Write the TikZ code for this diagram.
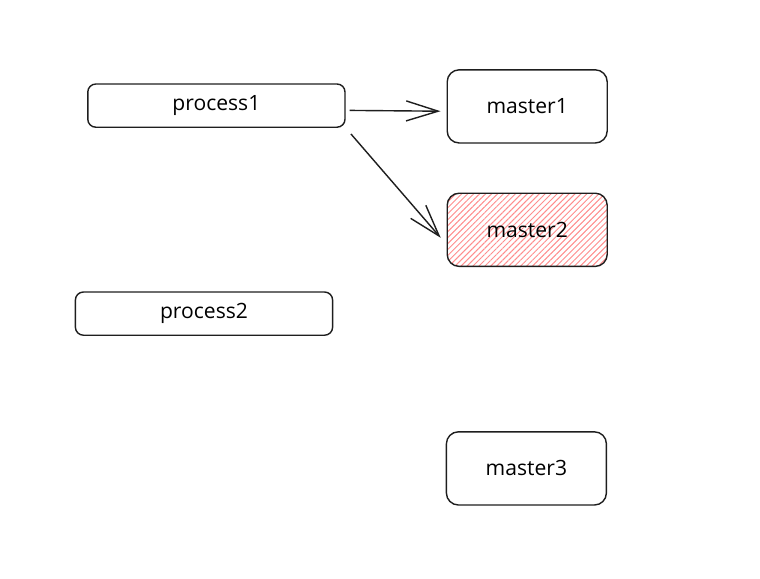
\documentclass[tikz,border=0pt]{standalone}
\usepackage{fontspec}
\setmainfont{Open Sans}
\usetikzlibrary{positioning,arrows.meta,patterns.meta}
\definecolor{ink}{HTML}{1E1E1E}
\definecolor{hatch}{HTML}{FF8C8C}
\tikzset{proc/.style={draw=ink,line width=1pt,rounded corners=2mm,fill=white,minimum width=6.43cm,minimum height=1.08cm,font=\fontsize{15}{18}\selectfont},master/.style={draw=ink,line width=1pt,rounded corners=3mm,fill=white,minimum width=4cm,minimum height=1.83cm,font=\fontsize{15}{18}\selectfont},link/.style={draw=ink,line width=1pt,-{Straight Barb[length=8mm,width=5mm,line width=1pt]}}}

\begin{document}
\begin{tikzpicture}[node distance=1.225cm]
\useasboundingbox (0,0) rectangle (19,-14.45);
\node[proc] (p1) at (5.41,-2.64) {process1};
\node[master] (m1) at (13.18,-2.66) {master1};
\node[master,below=of m1,fill=none,pattern={Lines[angle=45,distance=3pt,line width=.7pt]},pattern color=hatch] (m2) {master2};
\node[proc] (p2) at (5.10,-7.84) {process2};
\node[master] (m3) at (13.16,-11.71) {master3};
\draw[link] ([yshift=-1.2mm,xshift=1mm]p1.east)--([yshift=-1.2mm,xshift=-1.5mm]m1.west);
\draw[link,shorten <=2mm] (p1.south east)--([xshift=-1.5mm,yshift=-2mm]m2.west);
\end{tikzpicture}
\end{document}
